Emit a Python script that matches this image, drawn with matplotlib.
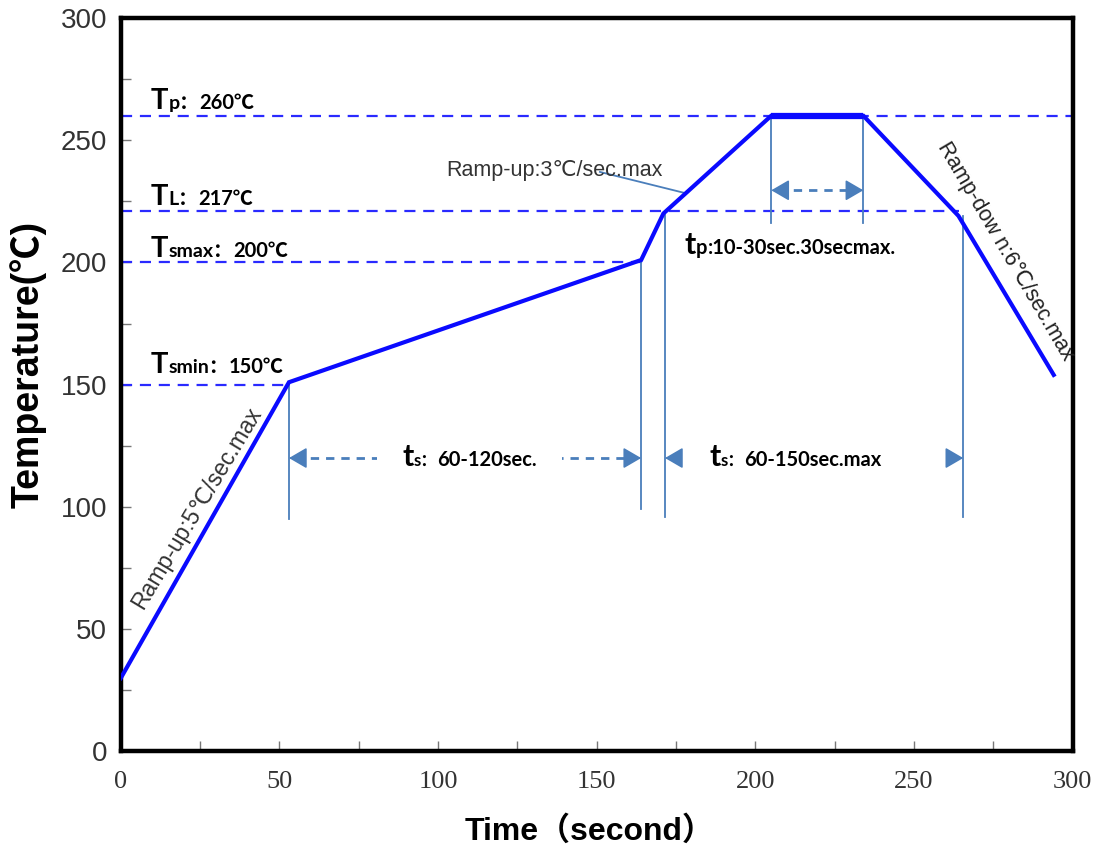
import matplotlib
matplotlib.use("Agg")
import matplotlib.pyplot as plt
from matplotlib.offsetbox import TextArea, HPacker, AnnotationBbox
from matplotlib.ticker import MultipleLocator

# ---------------- data ----------------
time_s = [0, 53, 164, 171, 205, 234, 264, 294]
temp_c = [30, 151, 201, 220, 260, 260, 219, 154]

# reference temperature levels (dashed lines) and where they end in time
level_temps = [260, 221, 200, 150]
level_end_t = [300, 264, 166, 53]
level_sub = ["p：", "L：", "smax：", "smin："]
level_text = ["260℃", "217℃", "200℃", "150℃"]

# vertical marker lines (time, top temp, bottom temp)
marker_t = [53, 164, 171.5, 265.5, 205, 234]
marker_top = [151, 201, 220, 219, 260, 260]
marker_bottom = [95, 99, 96, 96, 216, 216]

# time-span arrows: (start, end, temperature level)
soak_span = (53, 164, 120)
liquidus_span = (171.5, 265.5, 120)
peak_span = (205, 234, 229.5)

x_ticks = [0, 50, 100, 150, 200, 250, 300]
y_ticks = [0, 50, 100, 150, 200, 250, 300]

# ---------------- style ----------------
CURVE = "#0a0aff"
DASH = "#2a2aff"
STEEL = "#4a7ebb"
LBL_FONT = ["Lato", "Noto Sans CJK SC"]
ARIAL = ["Liberation Sans", "DejaVu Sans"]

fig = plt.figure(figsize=(10.98, 8.52), dpi=100)
ax = fig.add_axes([0.110, 0.118, 0.867, 0.861])
ax.set_xlim(0, 300)
ax.set_ylim(0, 300)

for s in ax.spines.values():
    s.set_linewidth(3.2)
    s.set_color("black")

ax.set_xticks(x_ticks)
ax.set_yticks(y_ticks)
ax.xaxis.set_minor_locator(MultipleLocator(25))
ax.yaxis.set_minor_locator(MultipleLocator(25))
ax.tick_params(which="both", direction="in", length=7, width=1, color="#777777")
ax.tick_params(axis="y", which="major", pad=10, labelsize=20, labelcolor="#333333")
ax.tick_params(axis="x", which="major", pad=14, labelsize=19, labelcolor="#333333")
for lab in ax.get_yticklabels():
    lab.set_family(ARIAL)
for lab in ax.get_xticklabels():
    lab.set_family(["Liberation Serif", "DejaVu Serif"])

# dashed reference levels
for lv, te in zip(level_temps, level_end_t):
    ax.plot([0, te], [lv, lv], color=DASH, lw=1.6, ls=(0, (5, 3.5)), zorder=2)

# vertical marker lines
for t, top, bot in zip(marker_t, marker_top, marker_bottom):
    ax.plot([t, t], [bot, top], color=STEEL, lw=1.3, zorder=2)

# reflow curve
ax.plot(time_s, temp_c, color=CURVE, lw=3, solid_joinstyle="miter", zorder=4)
ax.plot(time_s[4:6], temp_c[4:6], color=CURVE, lw=4.5, solid_capstyle="butt", zorder=4)


def head(tip, tail, y):
    ax.annotate("", xy=(tip, y), xytext=(tail, y),
                arrowprops=dict(arrowstyle="-|>,head_length=0.55,head_width=0.32",
                                color=STEEL, lw=1.2, shrinkA=0, shrinkB=0,
                                mutation_scale=20), zorder=5)


def span_arrow(span, dashed=True):
    a, b, y = span
    if dashed:
        ax.plot([a + 2, b - 2], [y, y], color=STEEL, lw=2, ls=(0, (3, 2.5)), zorder=3)
    head(a, a + 5, y)
    head(b, b - 5, y)


span_arrow(soak_span)
span_arrow(liquidus_span, dashed=False)
span_arrow(peak_span)


def composite(xy, parts, align=(0, 0), white=False, pad=0):
    areas = [TextArea(txt, textprops=dict(size=sz, weight="bold", family=LBL_FONT, color="black"))
             for txt, sz in parts]
    box = HPacker(children=areas, align="baseline", pad=pad, sep=0)
    ab = AnnotationBbox(box, xy, xycoords="data", box_alignment=align,
                        frameon=white, pad=0,
                        bboxprops=dict(fc="white", ec="none"), zorder=6)
    ax.add_artist(ab)


# level labels
label_y = [260.8, 221.6, 200.3, 152.6]
for lv_y, sub, txt in zip(label_y, level_sub, level_text):
    composite((9.5, lv_y), [("T", 21), (sub, 14), (txt, 14.5)], align=(0, 0))

# span labels
composite((110, 120.5), [("t", 22), ("s：", 12), ("60-120sec.", 14.5)], align=(0.5, 0.5), white=True, pad=18)
composite((185.5, 120.5), [("t", 22), ("s：", 12), ("60-150sec.max", 14.5)], align=(0, 0.5))
composite((177.8, 201.2), [("t", 22), ("p", 14.5), (":10-30sec.30secmax.", 14.5)], align=(0, 0))

# ramp annotations
ax.text(102.5, 235.2, "Ramp-up:3℃/sec.max", fontsize=15.5, family=ARIAL, color="#333333",
        ha="left", va="baseline", zorder=6)
ax.plot([151, 177.7], [237, 228.4], color=STEEL, lw=1.3, zorder=3)

ax.text(24, 99.5, "Ramp-up:5℃/sec.max", fontsize=16.5, family=ARIAL, color="#333333",
        rotation=59, rotation_mode="anchor", ha="center", va="center", zorder=6)
ax.text(278.8, 204.5, "Ramp-dow n:6℃/sec.max", fontsize=15.5, family=ARIAL, color="#222222",
        rotation=-59.5, rotation_mode="anchor", ha="center", va="center", zorder=6)

# axis titles
fig.text(0.026, 0.572, "Temperature(℃)", rotation=90, fontsize=27, fontweight="bold",
         family=["Liberation Sans", "Noto Sans CJK SC"], ha="center", va="center")
fig.text(0.537, 0.024, "Time（second）", fontsize=23, fontweight="bold",
         family=["Liberation Sans", "Noto Sans CJK SC"], ha="center", va="center")

fig.savefig("out.png", dpi=100)
